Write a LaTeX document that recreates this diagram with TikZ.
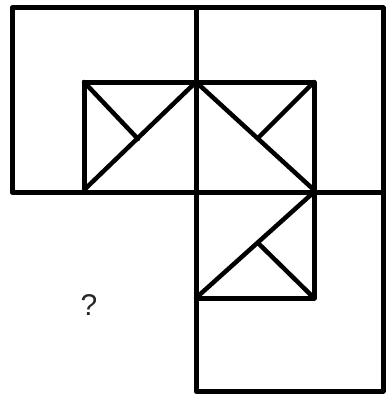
\documentclass[tikz,border=0pt]{standalone}
\usepackage{fontspec}
\setmainfont{Liberation Sans}
\usetikzlibrary{calc}

\begin{document}
\begin{tikzpicture}[x=1pt, y=-1pt, line cap=round, line join=round]
			\useasboundingbox (0,0) rectangle (387,396);
			% outer squares
			\draw[line width=5pt] (12,8) rectangle (196,192);
			\draw[line width=5pt] (196,8) rectangle (383,192);
			\draw[line width=5pt] (196,192) rectangle (383,391);
			% inner rectangles
			\draw[line width=5pt] (84,82) rectangle (196,192);
			\draw[line width=5pt] (196,82) rectangle (314,192);
			\draw[line width=5pt] (196,192) rectangle (314,298);
			% diagonals
			\draw[line width=4.5pt] (84,190)--(196,82);
			\draw[line width=4.5pt] (84,82)--(138,139);
			\draw[line width=4.5pt] (196,82)--(314,190);
			\draw[line width=4.5pt] (314,82)--(260,136);
			\draw[line width=4.5pt] (196,298)--(314,192);
			\draw[line width=4.5pt] (314,298)--(258,243);
			\node[text=black!85, font=\fontsize{30}{32}\selectfont] (q) at (89,305) {?};
		\end{tikzpicture}
\end{document}
